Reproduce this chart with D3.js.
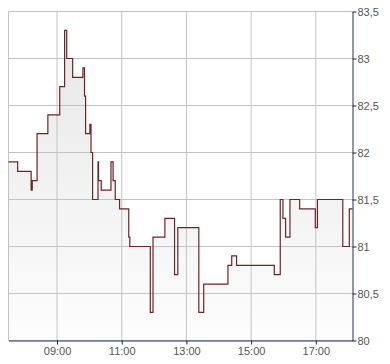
<!DOCTYPE html>
<meta charset="utf-8">
<style>
  body { margin: 0; background: #fff; }
  svg text { font-family: "Liberation Sans", Arial, sans-serif; font-size: 11px; fill: #555; }
</style>
<body>
<svg id="chart" width="390" height="364"></svg>
<script src="https://d3js.org/d3.v7.min.js"></script>
<script>

// price steps (time, value)
var times = ["07:30","07:47","08:12","08:14","08:23","08:43","09:05","09:14","09:18","09:29",
             "09:48","09:51","09:53","10:01","10:03","10:06","10:16","10:17","10:22","10:40",
             "10:44","10:48","10:56","11:13","11:15","11:53","11:58","12:20","12:38","12:44",
             "13:23","13:32","14:17","14:24","14:33","15:43","15:54","15:59","16:04","16:12",
             "16:30","16:59","17:03","17:50","18:02","18:08"];
var prices = [81.9, 81.8, 81.6, 81.7, 82.2, 82.4, 82.7, 83.3, 83.0, 82.8,
              82.9, 82.6, 82.2, 82.3, 82.0, 81.5, 81.9, 81.7, 81.6, 81.9,
              81.7, 81.5, 81.4, 81.1, 81.0, 80.3, 81.1, 81.3, 80.7, 81.2,
              80.3, 80.6, 80.8, 80.9, 80.8, 80.7, 81.5, 81.3, 81.1, 81.5,
              81.4, 81.2, 81.5, 81.0, 81.4, 81.4];
var xTicks = ["09:00","11:00","13:00","15:00","17:00"];
var yTicks = [80, 80.5, 81, 81.5, 82, 82.5, 83, 83.5];
var timeStart = "07:30", timeEnd = "18:08";

var svg = d3.select("#chart");
var parse = d3.timeParse("%H:%M");

var data = times.map(function(t, i) { return { t: parse(t), v: prices[i] }; });

var x = d3.scaleTime()
  .domain([parse(timeStart), parse(timeEnd)])
  .range([8.5, 352.5]);
var y = d3.scaleLinear()
  .domain([80, 83.5])
  .range([340.5, 11.5]);

// gradient for the area
var grad = svg.append("defs").append("linearGradient")
  .attr("id", "fillGrad")
  .attr("gradientUnits", "userSpaceOnUse")
  .attr("x1", 0).attr("y1", y(83.5)).attr("x2", 0).attr("y2", y(80));
grad.append("stop").attr("offset", "0%").attr("stop-color", "#e6e6e6");
grad.append("stop").attr("offset", "100%").attr("stop-color", "#fdfdfd");

// area
svg.append("path")
  .datum(data)
  .attr("fill", "url(#fillGrad)")
  .attr("d", d3.area()
    .curve(d3.curveStepAfter)
    .x(function(d) { return x(d.t); })
    .y0(y(80))
    .y1(function(d) { return y(d.v); }));

// grid
var grid = svg.append("g").attr("stroke", "#c3c3c3").attr("stroke-width", 1);
grid.selectAll(".h").data(yTicks).enter().append("line")
  .attr("x1", x.range()[0]).attr("x2", x.range()[1])
  .attr("y1", function(d) { return y(d); }).attr("y2", function(d) { return y(d); });
grid.selectAll(".v").data(xTicks).enter().append("line")
  .attr("x1", function(d) { return x(parse(d)); }).attr("x2", function(d) { return x(parse(d)); })
  .attr("y1", y.range()[0]).attr("y2", y.range()[1]);
grid.append("line")
  .attr("x1", x.range()[0]).attr("x2", x.range()[0])
  .attr("y1", y.range()[0]).attr("y2", y.range()[1]);

// line
svg.append("path")
  .datum(data)
  .attr("fill", "none")
  .attr("stroke", "#6e2327")
  .attr("stroke-width", 1.2)
  .attr("d", d3.line()
    .curve(d3.curveStepAfter)
    .x(function(d) { return x(d.t); })
    .y(function(d) { return y(d.v); }));

// axes
var axisColor = "#1b3564";
var xAxis = svg.append("g")
  .attr("transform", "translate(0," + y(80) + ")")
  .call(d3.axisBottom(x)
    .tickValues(xTicks.map(parse))
    .tickFormat(d3.timeFormat("%H:%M"))
    .tickSize(4)
    .tickSizeOuter(0)
    .tickPadding(3));
xAxis.select(".domain").attr("stroke", axisColor);
xAxis.selectAll(".tick line").attr("stroke", "#222");
xAxis.selectAll("text").attr("fill", "#555").style("font-size", "11px");

var yAxis = svg.append("g")
  .attr("transform", "translate(" + x.range()[1] + ",0)")
  .call(d3.axisRight(y)
    .tickValues(yTicks)
    .tickFormat(function(d) { return String(d).replace(".", ","); })
    .tickSize(4)
    .tickSizeOuter(0)
    .tickPadding(1));
yAxis.select(".domain").attr("stroke", axisColor);
yAxis.selectAll(".tick line").attr("stroke", "#222");
yAxis.selectAll("text").attr("fill", "#555").style("font-size", "11px");

</script>
</body>
